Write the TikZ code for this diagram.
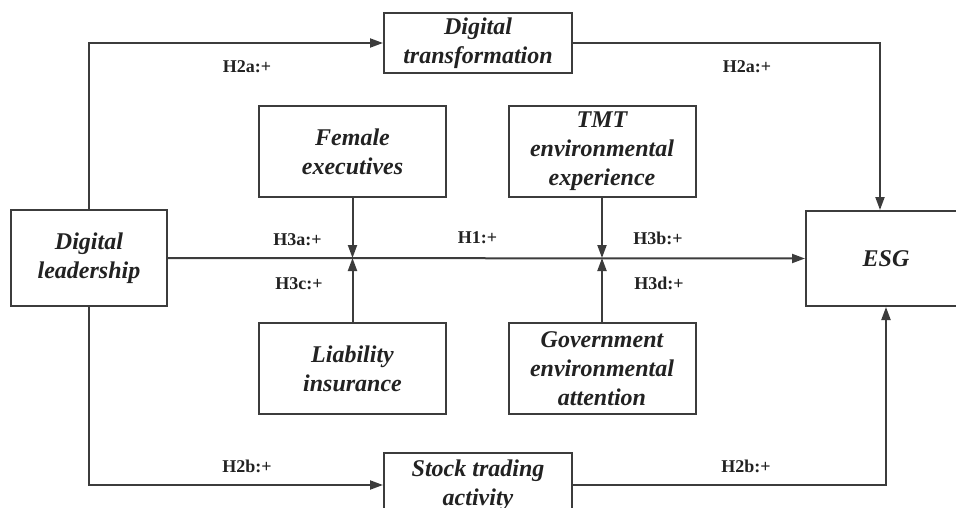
\documentclass[tikz,border=0pt]{standalone}
\usepackage{fontspec}
\setmainfont{Liberation Serif}
\usepackage{tikz}
\usetikzlibrary{arrows.meta,calc}
\usepackage{xcolor}
\definecolor{linea}{HTML}{3C3C3C}
\definecolor{texto}{HTML}{222222}

\begin{document}
\begin{tikzpicture}[x=1pt,y=-1pt,
        caja/.style={draw=linea, line width=2pt, fill=white, align=center, inner sep=0pt,
            text=texto, font=\fontsize{24}{29}\selectfont\bfseries\itshape},
        flecha/.style={draw=linea, line width=2pt, -{Triangle[length=13pt,width=9pt]}},
        etiqueta/.style={text=texto, font=\fontsize{18}{20}\selectfont\bfseries}]

    % Marco
    \clip (0,0) rectangle (956,508);
    \fill[white] (0,0) rectangle (956,508);

    % Cajas
    \node[caja, minimum width=156pt, minimum height=96pt] (lider) at (89,258) {Digital\\leadership};
    \node[caja, minimum width=160pt, minimum height=95pt] (esg) at (886,258.5) {ESG};
    \node[caja, minimum width=188pt, minimum height=60pt] (trans) at (478,43) {Digital\\transformation};
    \node[caja, minimum width=188pt, minimum height=64pt] (bolsa) at (478,485) {Stock trading\\activity};
    \node[caja, minimum width=187pt, minimum height=91pt] (mujer) at (352.5,151.5) {Female\\executives};
    \node[caja, minimum width=187pt, minimum height=91pt] (tmt) at (602,151.5) {TMT\\environmental\\experience};
    \node[caja, minimum width=187pt, minimum height=91pt] (seguro) at (352.5,368.5) {Liability\\insurance};
    \node[caja, minimum width=187pt, minimum height=91pt] (gob) at (602,368.5) {Government\\environmental\\attention};

    % Puntos de moderacion sobre el camino principal
    \coordinate (m1) at (mujer.south |- lider.east);
    \coordinate (m2) at (tmt.south |- lider.east);

    % Flechas
    \draw[flecha] (lider.east) -- (esg.west);
    \draw[flecha] (lider.north) |- (trans.west);
    \draw[flecha] (trans.east) -| ([xshift=-6pt]esg.north);
    \draw[flecha] (lider.south) |- (bolsa.west);
    \draw[flecha] (bolsa.east) -| (esg.south);
    \draw[flecha] (mujer.south) -- (m1);
    \draw[flecha] (seguro.north) -- (m1);
    \draw[flecha] (tmt.south) -- (m2);
    \draw[flecha] (gob.north) -- (m2);

    % Etiquetas
    \node[etiqueta] (h2a1) at (247,67) {H2a:+};
    \node[etiqueta] (h2a2) at (747,67) {H2a:+};
    \node[etiqueta] (h3a) at (297.5,240) {H3a:+};
    \node[etiqueta] (h1) at (477.5,238) {H1:+};
    \node[etiqueta] (h3b) at (658,238) {H3b:+};
    \node[etiqueta] (h3c) at (299,284) {H3c:+};
    \node[etiqueta] (h3d) at (659,283) {H3d:+};
    \node[etiqueta] (h2b1) at (247,466) {H2b:+};
    \node[etiqueta] (h2b2) at (746,466) {H2b:+};

\end{tikzpicture}
\end{document}
